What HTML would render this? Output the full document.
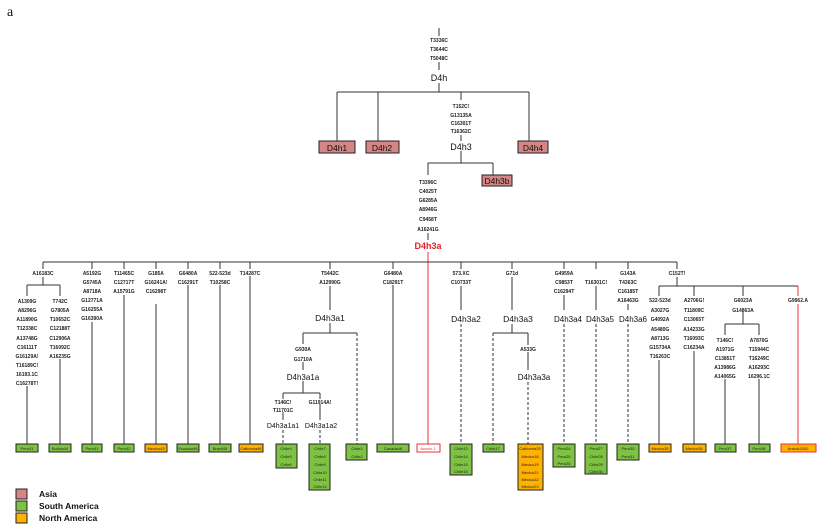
<!DOCTYPE html>
<html><head><meta charset="utf-8"><style>
html,body{margin:0;padding:0;background:#fff;}
svg{display:block;}
.m{font-family:"Liberation Sans",sans-serif;font-size:5px;font-weight:bold;fill:#222;text-anchor:middle;}
.h{font-family:"Liberation Sans",sans-serif;font-size:8.5px;fill:#111;text-anchor:middle;}
.b{font-family:"Liberation Sans",sans-serif;font-size:4px;fill:#222;text-anchor:middle;}
.l{stroke:#333;stroke-width:1;fill:none;}
.d{stroke:#333;stroke-width:1;fill:none;stroke-dasharray:3,2;}
.r{stroke:#e8303a;stroke-width:1;fill:none;}
.g{fill:#7dc242;stroke:#222;stroke-width:1;}
.o{fill:#ffb100;stroke:#222;stroke-width:1;}
.p{fill:#d48585;stroke:#222;stroke-width:1;}
.lg{font-family:"Liberation Sans",sans-serif;font-size:8.5px;font-weight:bold;fill:#111;}
</style></head><body>
<svg width="831" height="532" viewBox="0 0 831 532" xmlns="http://www.w3.org/2000/svg">
<text x="7" y="16" style="font-family:'Liberation Serif',serif;font-size:14px;fill:#111">a</text>

<!-- top -->
<path class="l" d="M439 28V36M439 62V70M439 83V92M337 92H529M337 92V141M378 92V141M529 92V141M461 92V100M461 135V141M461 151V163M428 163H493M493 163V175M428 163V175M428 233V240"/>
<text class="m" x="439" y="42">T3336C</text><text class="m" x="439" y="51">T3644C</text><text class="m" x="439" y="60">T5048C</text>
<text class="h" x="439" y="81" style="font-size:9px">D4h</text>
<text class="m" x="461" y="108">T152C!</text><text class="m" x="461" y="117">G13135A</text><text class="m" x="461" y="125">C16301T</text><text class="m" x="461" y="133">T16362C</text>
<text class="h" x="461" y="150" style="font-size:9px">D4h3</text>
<rect class="p" x="319" y="141" width="36" height="12"/><text class="h" x="337" y="151">D4h1</text>
<rect class="p" x="366" y="141" width="33" height="12"/><text class="h" x="382" y="151">D4h2</text>
<rect class="p" x="518" y="141" width="30" height="12"/><text class="h" x="533" y="151">D4h4</text>
<rect class="p" x="482" y="175" width="30" height="11"/><text class="h" x="497" y="184">D4h3b</text>
<text class="m" x="428" y="184">T3396C</text><text class="m" x="428" y="193">C4025T</text><text class="m" x="428" y="202">G6285A</text><text class="m" x="428" y="211">A8946G</text><text class="m" x="428" y="221">C9458T</text><text class="m" x="428" y="231">A16241G</text>
<text class="h" x="428" y="249" style="fill:#e8202a;font-weight:bold;font-size:9px">D4h3a</text>
<path class="r" d="M428 252V444"/>

<!-- main horizontal -->
<path class="l" d="M43 262H677M43 262V269M92 262V269M124 262V269M156 262V269M188 262V269M220 262V269M250 262V269M330 262V269M393 262V269M461 262V269M512 262V269M564 262V269M596 262V269M628 262V269M677 262V269"/>

<!-- col1 -->
<text class="m" x="43" y="275">A16183C</text>
<path class="l" d="M43 277V285M27 285H60M27 285V296M60 285V296M27 386V444M60 359V444"/>
<text class="m" x="27" y="303">A1309G</text><text class="m" x="27" y="312">A8296G</text><text class="m" x="27" y="321">A11890G</text><text class="m" x="27" y="330">T12338C</text><text class="m" x="27" y="340">A13748G</text><text class="m" x="27" y="349">C16111T</text><text class="m" x="27" y="358">G16129A!</text><text class="m" x="27" y="367">T16189C!</text><text class="m" x="27" y="376">16193.1C</text><text class="m" x="27" y="385">C16278T!</text>
<text class="m" x="60" y="303">T742C</text><text class="m" x="60" y="312">G7805A</text><text class="m" x="60" y="321">T10652C</text><text class="m" x="60" y="330">C12188T</text><text class="m" x="60" y="340">C12906A</text><text class="m" x="60" y="349">T16092C</text><text class="m" x="60" y="358">A16235G</text>
<!-- col2-7 -->
<text class="m" x="92" y="275">A5192G</text><text class="m" x="92" y="284">G5745A</text><text class="m" x="92" y="293">A8718A</text><text class="m" x="92" y="302">G12771A</text><text class="m" x="92" y="311">G16255A</text><text class="m" x="92" y="320">G16390A</text>
<path class="l" d="M92 322V444M124 295V444M156 304V444M188 285V444M220 285V444M250 276V444M393 285V444"/>
<text class="m" x="124" y="275">T11465C</text><text class="m" x="124" y="284">C12717T</text><text class="m" x="124" y="293">A15791G</text>
<text class="m" x="156" y="275">G185A</text><text class="m" x="156" y="284">G16241A!</text><text class="m" x="156" y="293">C16298T</text>
<text class="m" x="188" y="275">G6480A</text><text class="m" x="188" y="284">C16291T</text>
<text class="m" x="220" y="275">522-523d</text><text class="m" x="220" y="284">T10258C</text>
<text class="m" x="250" y="275">T14287C</text>
<text class="m" x="393" y="275">G6480A</text><text class="m" x="393" y="284">C18291T</text>

<!-- D4h3a1 -->
<text class="m" x="330" y="275">T5442C</text><text class="m" x="330" y="284">A12990G</text>
<path class="l" d="M330 286V310M330 323V333M303 333H357M303 333V344M303 362V370M303 381V393M283 393H320M283 393V399M320 393V399M283 412V420M320 404V420"/>
<path class="d" d="M357 333V444M283 430V444M320 430V444"/>
<text class="h" x="330" y="321">D4h3a1</text>
<text class="m" x="303" y="351">G930A</text><text class="m" x="303" y="361">G1710A</text>
<text class="h" x="303" y="380" style="font-size:8px">D4h3a1a</text>
<text class="m" x="283" y="404">T146C!</text><text class="m" x="283" y="412">T11701C</text>
<text class="m" x="320" y="404">G11914A!</text>
<text class="h" x="283" y="428" style="font-size:7px">D4h3a1a1</text>
<text class="h" x="321" y="428" style="font-size:7px">D4h3a1a2</text>

<!-- D4h3a2..6 -->
<text class="m" x="461" y="275">573.XC</text><text class="m" x="461" y="284">C10733T</text>
<text class="m" x="512" y="275">G71d</text>
<text class="m" x="564" y="275">G4959A</text><text class="m" x="564" y="284">C9853T</text><text class="m" x="564" y="293">C16294T</text>
<text class="m" x="596" y="284">T16301C!</text>
<text class="m" x="628" y="275">G143A</text><text class="m" x="628" y="284">T4363C</text><text class="m" x="628" y="293">C16185T</text><text class="m" x="628" y="302">A16463G</text>
<path class="l" d="M461 286V310M512 277V310M512 324V333M493 333H528M528 333V345M528 352V370M564 295V310M596 286V310M628 304V310"/>
<path class="d" d="M461 324V444M493 333V444M528 382V444M564 324V444M596 324V444M628 324V444"/>
<text class="h" x="466" y="322">D4h3a2</text><text class="h" x="518" y="322">D4h3a3</text><text class="h" x="568" y="322" style="font-size:8px">D4h3a4</text><text class="h" x="600" y="322" style="font-size:8px">D4h3a5</text><text class="h" x="633" y="322" style="font-size:8px">D4h3a6</text>
<text class="m" x="528" y="351">A533G</text>
<text class="h" x="534" y="380" style="font-size:8px">D4h3a3a</text>

<!-- C152T -->
<text class="m" x="677" y="275">C152T!</text>
<path class="l" d="M677 277V286M659 286H798M659 286V296M694 286V296M743 286V296M659 360V444M694 351V444M743 312V324M725 324H759M725 324V335M759 324V335M725 379V444M759 379V444"/>
<path class="r" d="M798 286V296M798 304V444"/>
<text class="m" x="660" y="302">522-523d</text><text class="m" x="660" y="312">A3027G</text><text class="m" x="660" y="321">G4092A</text><text class="m" x="660" y="331">A5480G</text><text class="m" x="660" y="340">A8713G</text><text class="m" x="660" y="349">G15734A</text><text class="m" x="660" y="358">T16263C</text>
<text class="m" x="694" y="302">A2706G!</text><text class="m" x="694" y="312">T11809C</text><text class="m" x="694" y="321">C13065T</text><text class="m" x="694" y="331">A14233G</text><text class="m" x="694" y="340">T16093C</text><text class="m" x="694" y="349">C16234A</text>
<text class="m" x="743" y="302">G6023A</text><text class="m" x="743" y="312">G14863A</text>
<text class="m" x="725" y="342">T146C!</text><text class="m" x="725" y="351">A1971G</text><text class="m" x="725" y="360">C13851T</text><text class="m" x="725" y="369">A13986G</text><text class="m" x="725" y="378">A14065G</text>
<text class="m" x="759" y="342">A7870G</text><text class="m" x="759" y="351">T15944C</text><text class="m" x="759" y="360">T16249C</text><text class="m" x="759" y="369">A16293C</text><text class="m" x="759" y="378">16296.1C</text>
<text class="m" x="798" y="302">G9962.A</text>

<!-- boxes -->
<rect class="g" x="16" y="444" width="22" height="8"/><text class="b" x="27" y="450">Peru31</text>
<rect class="g" x="49" y="444" width="22" height="8"/><text class="b" x="60" y="450">Bolivia44</text>
<rect class="g" x="82" y="444" width="20" height="8"/><text class="b" x="92" y="450">Peru41</text>
<rect class="g" x="114" y="444" width="20" height="8"/><text class="b" x="124" y="450">Peru42</text>
<rect class="o" x="145" y="444" width="22" height="8"/><text class="b" x="156" y="450">Mexico43</text>
<rect class="g" x="177" y="444" width="22" height="8"/><text class="b" x="188" y="450">Ecuador44</text>
<rect class="g" x="209" y="444" width="22" height="8"/><text class="b" x="220" y="450">Brazil45</text>
<rect class="o" x="239" y="444" width="24" height="8"/><text class="b" x="251" y="450">California46</text>
<rect class="g" x="276" y="444" width="21" height="24"/><text class="b" x="286" y="450">Chile4</text><text class="b" x="286" y="458">Chile5</text><text class="b" x="286" y="466">Chile6</text>
<rect class="g" x="309" y="444" width="21" height="46"/><text class="b" x="320" y="450">Chile7</text><text class="b" x="320" y="458">Chile8</text><text class="b" x="320" y="466">Chile9</text><text class="b" x="320" y="474">Chile10</text><text class="b" x="320" y="481">Chile11</text><text class="b" x="320" y="488">Chile12</text>
<rect class="g" x="346" y="444" width="21" height="16"/><text class="b" x="357" y="450">Chile1</text><text class="b" x="357" y="458">Chile2</text>
<rect class="g" x="377" y="444" width="32" height="8"/><text class="b" x="393" y="450">Canada48</text>
<rect x="417" y="444" width="23" height="8" fill="#fff" stroke="#e8303a"/><text class="b" x="428" y="450" style="fill:#e8303a">Anzick-1</text>
<rect class="g" x="450" y="444" width="22" height="31"/><text class="b" x="461" y="450">Chile13</text><text class="b" x="461" y="458">Chile14</text><text class="b" x="461" y="466">Chile15</text><text class="b" x="461" y="473">Chile16</text>
<rect class="g" x="483" y="444" width="21" height="8"/><text class="b" x="493" y="450">Chile17</text>
<rect class="o" x="518" y="444" width="25" height="46"/><text class="b" x="530" y="450">California29</text><text class="b" x="530" y="458">Mexico18</text><text class="b" x="530" y="466">Mexico19</text><text class="b" x="530" y="474">Mexico21</text><text class="b" x="530" y="481">Mexico22</text><text class="b" x="530" y="488">Mexico23</text>
<rect class="g" x="553" y="444" width="22" height="23"/><text class="b" x="564" y="450">Peru24</text><text class="b" x="564" y="458">Peru25</text><text class="b" x="564" y="465">Peru26</text>
<rect class="g" x="585" y="444" width="22" height="30"/><text class="b" x="596" y="450">Peru27</text><text class="b" x="596" y="458">Chile28</text><text class="b" x="596" y="466">Chile29</text><text class="b" x="596" y="473">Chile30</text>
<rect class="g" x="617" y="444" width="22" height="16"/><text class="b" x="628" y="450">Peru30</text><text class="b" x="628" y="458">Peru31</text>
<rect class="o" x="649" y="444" width="22" height="8"/><text class="b" x="660" y="450">Mexico35</text>
<rect class="o" x="683" y="444" width="23" height="8"/><text class="b" x="694" y="450">Mexico36</text>
<rect class="g" x="715" y="444" width="21" height="8"/><text class="b" x="725" y="450">Peru37</text>
<rect class="g" x="749" y="444" width="21" height="8"/><text class="b" x="759" y="450">Peru38</text>
<rect x="781" y="444" width="35" height="8" fill="#ffb100" stroke="#e8303a"/><text class="b" x="798" y="450">Anzick2000</text>

<!-- legend -->
<rect class="p" x="16" y="489" width="11" height="10"/><rect class="g" x="16" y="501" width="11" height="10"/><rect class="o" x="16" y="513" width="11" height="10"/>
<text class="lg" x="39" y="497">Asia</text><text class="lg" x="39" y="509">South America</text><text class="lg" x="39" y="521">North America</text>
</svg>
</body></html>
